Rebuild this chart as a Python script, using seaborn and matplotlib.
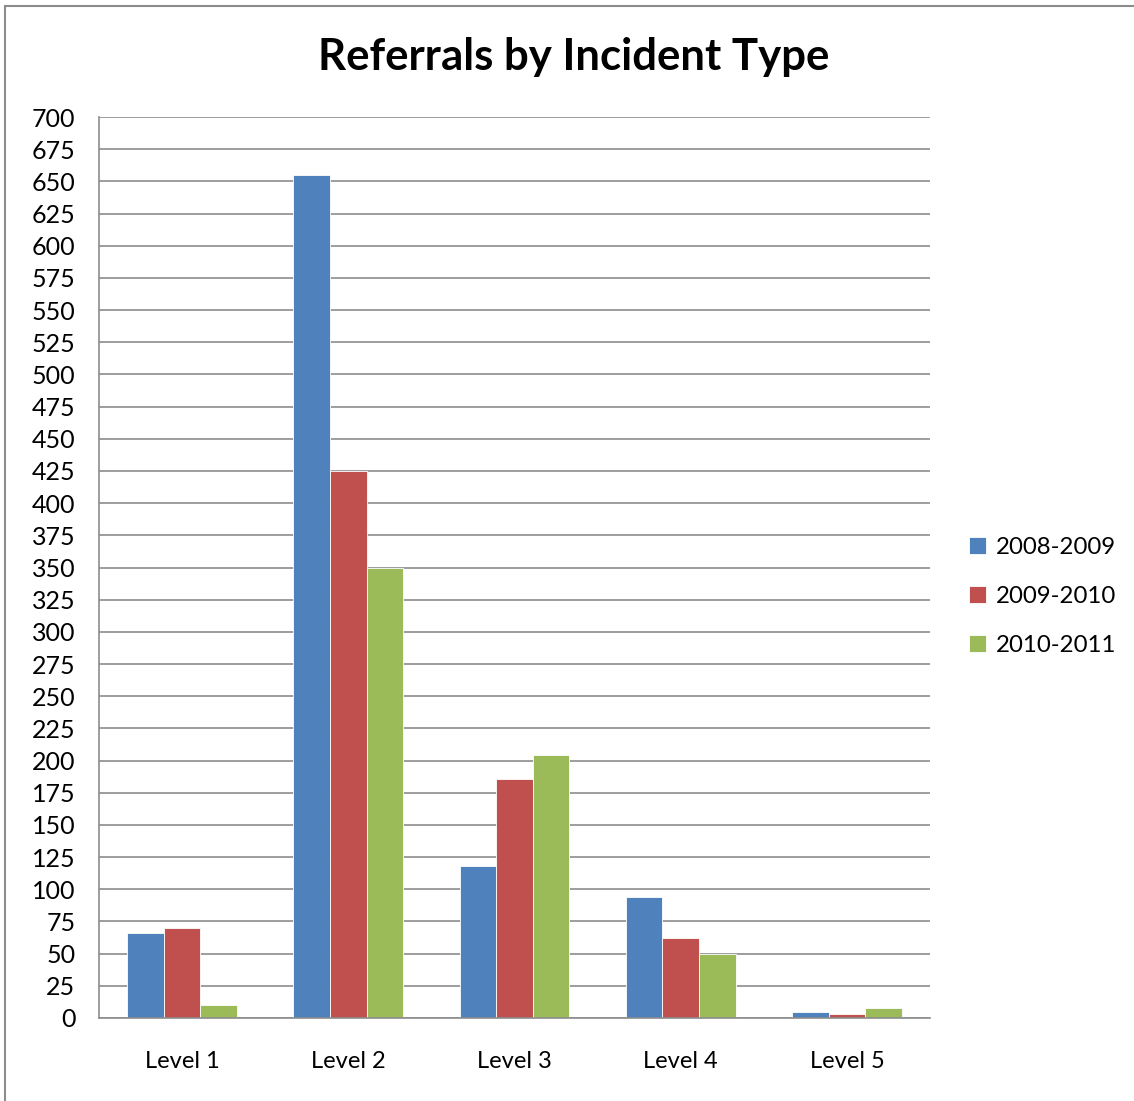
import pandas as pd
import seaborn as sns
import matplotlib.pyplot as plt
from matplotlib.patches import Rectangle

# values
levels = ['Level 1', 'Level 2', 'Level 3', 'Level 4', 'Level 5']
years = ['2008-2009', '2009-2010', '2010-2011']
y2008 = [66, 655, 118, 94, 5]
y2009 = [70, 425, 186, 62, 3]
y2010 = [10, 350, 204, 50, 8]
colors = ['#4F81BD', '#C0504D', '#9BBB59']

df = pd.DataFrame({'Level': levels * 3,
                   'Year': [y for y in years for _ in levels],
                   'Referrals': y2008 + y2009 + y2010})

sns.set_style('white')
plt.rcParams['font.family'] = ['Lato', 'DejaVu Sans']
plt.rcParams['text.color'] = 'black'
plt.rcParams['xtick.color'] = 'black'
plt.rcParams['ytick.color'] = 'black'

fig = plt.figure(figsize=(11.34, 11.01), dpi=100)
ax = fig.add_axes([0.0873, 0.0754, 0.7328, 0.8183])

sns.barplot(data=df, x='Level', y='Referrals', hue='Year', palette=colors,
            width=0.66, ax=ax, edgecolor='white', linewidth=0.6, saturation=1)

ax.set_ylim(0, 700)
ax.set_xlim(-0.5, 4.5)
ax.set_yticks(range(0, 701, 25))
ax.yaxis.grid(True, color='#8c8c8c', linewidth=1.2)
ax.set_axisbelow(True)
for s in ['top', 'right']:
    ax.spines[s].set_visible(False)
for s in ['left', 'bottom']:
    ax.spines[s].set_color('#8c8c8c')
    ax.spines[s].set_linewidth(1.2)
ax.tick_params(axis='y', length=0, labelsize=18, pad=17)
ax.tick_params(axis='x', length=0, labelsize=17, pad=24)
ax.set_xlabel('')
ax.set_ylabel('')

fig.text(0.506, 0.948, 'Referrals by Incident Type', ha='center', va='center',
         fontsize=31.5, fontweight='bold')

ax.legend(loc='center left', bbox_to_anchor=(1.047, 0.468), frameon=False,
          fontsize=17.3, handlelength=0.7, handleheight=0.7, handletextpad=0.4,
          labelspacing=1.17, borderpad=0, borderaxespad=0)

# outer chart border
fig.patches.append(Rectangle((0.004, -0.01), 1.2, 1.005, transform=fig.transFigure,
                             fill=False, edgecolor='#8c8c8c', linewidth=1.5))

plt.savefig('out.png')
